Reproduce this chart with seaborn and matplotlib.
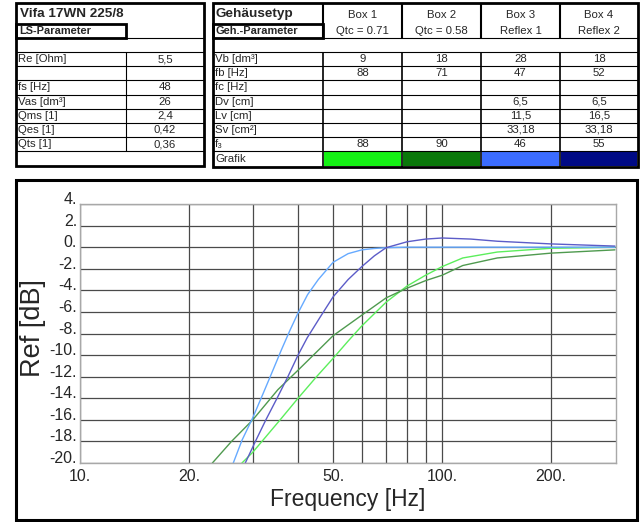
import numpy as np
import pandas as pd
import matplotlib
matplotlib.use("Agg")
import matplotlib.pyplot as plt
import seaborn as sns
from matplotlib.patches import Rectangle
from matplotlib.ticker import NullLocator

# ---- speaker / box data ----
speaker_name = "Vifa 17WN 225/8"
ls_labels = ["Re [Ohm]", "", "fs [Hz]", "Vas [dm³]", "Qms [1]", "Qes [1]", "Qts [1]"]
ls_values = ["5,5", "", "48", "26", "2,4", "0,42", "0,36"]

box_names = ["Box 1", "Box 2", "Box 3", "Box 4"]
box_types = ["Qtc = 0.71", "Qtc = 0.58", "Reflex 1", "Reflex 2"]
geh_labels = ["Vb [dm³]", "fb [Hz]", "fc [Hz]", "Dv [cm]", "Lv [cm]", "Sv [cm²]", "f₃"]
vb = ["9", "18", "28", "18"]
fb = ["88", "71", "47", "52"]
fc = ["", "", "", ""]
dv = ["", "", "6,5", "6,5"]
lv = ["", "", "11,5", "16,5"]
sv = ["", "", "33,18", "33,18"]
f3 = ["88", "90", "46", "55"]
grafik_colors = ["#14f014", "#0a780a", "#3b6cff", "#000a85"]
curve_colors = ["#5cee5c", "#4f9a4f", "#66aaff", "#5c5cc8"]

# ---- response curves (frequency in Hz, level in dB) ----
box1_freq = [28, 30, 35.7, 40, 45, 50, 55, 60, 70, 80, 90, 100, 114, 142, 200, 250, 300]
box1_db = [-20, -19, -16, -14, -12, -10.3, -8.7, -7.3, -5.1, -3.6, -2.6, -1.8, -1.0, -0.45, -0.1, -0.05, 0]

box2_freq = [23.2, 26.2, 30, 35.2, 40, 46, 50, 60, 70, 80, 90, 100, 114, 142, 200, 300]
box2_db = [-20, -18, -16, -13.2, -11.4, -9.4, -8.2, -6.3, -4.7, -3.8, -3.1, -2.6, -1.7, -1.0, -0.55, -0.25]

box3_freq = [26.5, 28, 30, 32, 34, 36, 38, 40, 42.5, 45.5, 50, 55, 60, 65, 70, 80, 100, 150, 200, 300]
box3_db = [-20, -17.9, -15.8, -13.6, -11.5, -9.5, -7.7, -6.1, -4.4, -3.0, -1.4, -0.6, -0.25, -0.12, -0.05, 0, 0, 0, 0, 0]

box4_freq = [28.6, 30.5, 32.6, 35, 37.5, 40, 42.4, 46, 50, 55, 60, 65, 70, 80, 90, 100, 120, 142, 200, 300]
box4_db = [-20, -18, -16, -14, -12, -10, -8.4, -6.5, -4.6, -3.0, -1.8, -0.8, -0.05, 0.5, 0.75, 0.85, 0.75, 0.55, 0.3, 0.1]

x_ticks = [10, 20, 30, 40, 50, 60, 70, 80, 90, 100, 200]
x_labels = ["10.", "20.", "", "", "50.", "", "", "", "", "100.", "200."]
y_ticks = list(range(-20, 5, 2))

df = pd.concat([
    pd.DataFrame({"freq": f, "db": d, "box": name})
    for f, d, name in zip([box1_freq, box2_freq, box3_freq, box4_freq],
                          [box1_db, box2_db, box3_db, box4_db], box_names)
])

sns.set_style("white")
plt.rcParams['font.family'] = ['Liberation Sans', 'DejaVu Sans']

W, H = 640, 522
fig = plt.figure(figsize=(W / 100, H / 100), dpi=100)

# background layer in pixel coordinates for the tables and frames
bg = fig.add_axes([0, 0, 1, 1], zorder=0)
bg.set_xlim(0, W)
bg.set_ylim(H, 0)
bg.axis("off")

def hline(y, x0, x1, lw=0.8):
    bg.plot([x0, x1], [y, y], color="black", lw=lw, solid_capstyle="butt")

def vline(x, y0, y1, lw=0.8):
    bg.plot([x, x], [y0, y1], color="black", lw=lw, solid_capstyle="butt")

def frame(x0, y0, x1, y1, lw=2.0):
    bg.add_patch(Rectangle((x0, y0), x1 - x0, y1 - y0, fill=False, ec="black", lw=lw))

txt = 8.2
rows = [37.7 + 14.2 * k for k in range(10)]

# left table
lx0, lx1, ldiv = 16, 204, 126
frame(lx0, 3, lx1, 166)
bg.text(lx0 + 4, 14, speaker_name, fontsize=9.7, fontweight="bold", va="center")
frame(lx0, 24, ldiv, rows[0])
bg.text(lx0 + 3, 31, "LS-Parameter", fontsize=7.9, fontweight="bold", va="center")
for y in rows[:9]:
    hline(y, lx0, lx1)
vline(ldiv, rows[1], rows[8])
for i, (lab, val) in enumerate(zip(ls_labels, ls_values)):
    yc = (rows[i + 1] + rows[i + 2]) / 2
    bg.text(lx0 + 2, yc, lab, fontsize=txt, va="center")
    bg.text((ldiv + lx1) / 2, yc, val, fontsize=txt, va="center", ha="center")

# right table
rx0, rx1 = 213, 638
cols = [323, 402, 481, 560, rx1]
frame(rx0, 3, rx1, 167)
bg.text(rx0 + 3, 14, "Gehäusetyp", fontsize=9.7, fontweight="bold", va="center")
frame(rx0, 24, cols[0], rows[0])
bg.text(rx0 + 3, 31, "Geh.-Parameter", fontsize=7.9, fontweight="bold", va="center")
for y in rows[:9]:
    hline(y, rx0, rx1)
for c in cols[:-1]:
    vline(c, 3, rows[0], lw=1.5)
    vline(c, rows[1], 167, lw=1.2)
for j in range(4):
    xc = (cols[j] + cols[j + 1]) / 2
    bg.text(xc, 15, box_names[j], fontsize=txt, ha="center", va="center")
    bg.text(xc, 31, box_types[j], fontsize=txt, ha="center", va="center")
table_vals = [vb, fb, fc, dv, lv, sv, f3]
for i, (lab, vals) in enumerate(zip(geh_labels, table_vals)):
    yc = (rows[i + 1] + rows[i + 2]) / 2
    bg.text(rx0 + 2, yc, lab, fontsize=txt, va="center")
    for j, v in enumerate(vals):
        bg.text((cols[j] + cols[j + 1]) / 2, yc, v, fontsize=txt, ha="center", va="center")
bg.text(rx0 + 2, (rows[8] + 166) / 2, "Grafik", fontsize=txt, va="center")
for j, c in enumerate(grafik_colors):
    bg.add_patch(Rectangle((cols[j] + 1, rows[8] + 0.6), cols[j + 1] - cols[j] - 2,
                           165.8 - rows[8], color=c, lw=0))

# chart frame
frame(16, 180, 637, 520, lw=2.2)

# response plot
ax = fig.add_axes([80 / W, (H - 463) / H, (616 - 80) / W, (463 - 204) / H], zorder=1)
ax.set_facecolor("none")
sns.lineplot(data=df, x="freq", y="db", hue="box", palette=curve_colors,
             estimator=None, sort=False, lw=1.0, legend=False, ax=ax)
ax.set_xscale("log")
ax.set_xlim(10, 302)
ax.set_ylim(-20, 4)
ax.set_xticks(x_ticks)
ax.set_xticklabels(x_labels)
ax.xaxis.set_minor_locator(NullLocator())
ax.set_yticks(y_ticks)
ax.set_yticklabels([f"{v}." for v in y_ticks])
ax.tick_params(axis="both", length=0, labelsize=11.5)
ax.tick_params(axis="x", pad=4)
ax.tick_params(axis="y", pad=2)
for lab in ax.get_yticklabels():
    lab.set_va("baseline")
ax.grid(True, color="#4a4a4a", lw=0.9)
ax.set_axisbelow(True)
for s in ax.spines.values():
    s.set_color("#a8a8a8")
    s.set_linewidth(1.0)

ax.set_xlabel("Frequency [Hz]", fontsize=16.5)
ax.xaxis.set_label_coords(0.5, -0.14)
ax.xaxis.label.set_va("center")
ax.set_ylabel("Ref [dB]", fontsize=19.5)
ax.yaxis.set_label_coords(-0.088, 0.52)
ax.yaxis.label.set_va("center")

fig.savefig("out.png", dpi=100)
